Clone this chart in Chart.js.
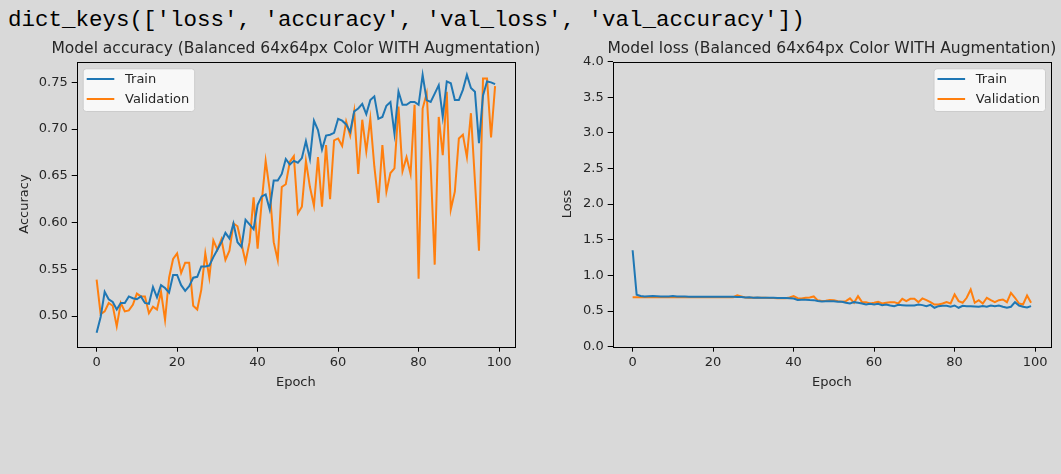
<!DOCTYPE html>
<html>
<head>
<meta charset="utf-8">
<script src="https://cdn.jsdelivr.net/npm/chart.js@4/dist/chart.umd.min.js"></script>
<style>
  html, body { margin: 0; padding: 0; background: #d9d9d9; width: 1061px; height: 474px; overflow: hidden; }
  #keys { position: absolute; left: 8px; top: 9px; font: 22.5px/22px "Liberation Mono", "DejaVu Sans Mono", monospace; color: #000; white-space: pre; }
  #acc-box { position: absolute; left: 0; top: 30px; }
  #loss-box { position: absolute; left: 545px; top: 30px; }
</style>
</head>
<body>
<div id="keys">dict_keys(['loss', 'accuracy', 'val_loss', 'val_accuracy'])</div>
<div id="acc-box"><canvas id="acc" width="545" height="362"></canvas></div>
<div id="loss-box"><canvas id="loss" width="516" height="362"></canvas></div>
<script>
const epochs = Array.from({ length: 100 }, (_, i) => i);
const epochTicks = [0, 20, 40, 60, 80, 100];

const accTrain = [
  0.482, 0.499, 0.526, 0.518, 0.515, 0.507, 0.514, 0.514, 0.521, 0.519,
  0.518, 0.521, 0.514, 0.513, 0.531, 0.520, 0.533, 0.530, 0.525, 0.544,
  0.544, 0.533, 0.527, 0.532, 0.541, 0.542, 0.553, 0.553, 0.554, 0.563,
  0.571, 0.579, 0.589, 0.583, 0.599, 0.579, 0.574, 0.603, 0.598, 0.593,
  0.619, 0.628, 0.630, 0.614, 0.645, 0.645, 0.652, 0.668, 0.662, 0.666,
  0.664, 0.669, 0.687, 0.668, 0.709, 0.699, 0.678, 0.693, 0.694, 0.696,
  0.711, 0.709, 0.705, 0.697, 0.719, 0.722, 0.727, 0.716, 0.731, 0.735,
  0.711, 0.713, 0.725, 0.729, 0.695, 0.740, 0.726, 0.726, 0.729, 0.729,
  0.726, 0.758, 0.731, 0.729, 0.738, 0.747, 0.713, 0.751, 0.749, 0.731,
  0.731, 0.742, 0.758, 0.744, 0.740, 0.685, 0.736, 0.751, 0.750, 0.748
];
const accVal = [
  0.539, 0.502, 0.505, 0.514, 0.511, 0.489, 0.514, 0.505, 0.506, 0.512,
  0.524, 0.521, 0.521, 0.503, 0.510, 0.507, 0.526, 0.496, 0.541, 0.561,
  0.567, 0.546, 0.557, 0.557, 0.511, 0.507, 0.528, 0.567, 0.541, 0.581,
  0.571, 0.582, 0.560, 0.570, 0.599, 0.596, 0.577, 0.558, 0.579, 0.627,
  0.572, 0.621, 0.666, 0.635, 0.579, 0.560, 0.638, 0.641, 0.665, 0.671,
  0.610, 0.617, 0.666, 0.638, 0.618, 0.670, 0.617, 0.683, 0.625, 0.688,
  0.690, 0.682, 0.708, 0.693, 0.719, 0.652, 0.710, 0.676, 0.711, 0.660,
  0.621, 0.683, 0.633, 0.653, 0.658, 0.724, 0.655, 0.670, 0.652, 0.726,
  0.540, 0.722, 0.738, 0.661, 0.555, 0.713, 0.672, 0.740, 0.614, 0.633,
  0.690, 0.694, 0.670, 0.717, 0.644, 0.570, 0.754, 0.754, 0.691, 0.746
];
const accTicks = ['0.50', '0.55', '0.60', '0.65', '0.70', '0.75'];

const lossTrain = [
  1.353, 0.730, 0.712, 0.705, 0.708, 0.710, 0.708, 0.705, 0.704, 0.704,
  0.712, 0.704, 0.703, 0.703, 0.702, 0.702, 0.702, 0.701, 0.700, 0.700,
  0.701, 0.700, 0.699, 0.699, 0.700, 0.699, 0.698, 0.697, 0.690, 0.692,
  0.688, 0.690, 0.688, 0.686, 0.686, 0.685, 0.684, 0.684, 0.684, 0.680,
  0.675, 0.655, 0.658, 0.660, 0.655, 0.653, 0.640, 0.635, 0.638, 0.636,
  0.639, 0.630, 0.630, 0.616, 0.606, 0.625, 0.616, 0.606, 0.592, 0.602,
  0.592, 0.602, 0.583, 0.592, 0.578, 0.569, 0.587, 0.583, 0.578, 0.578,
  0.578, 0.592, 0.583, 0.569, 0.587, 0.546, 0.569, 0.573, 0.573, 0.560,
  0.578, 0.546, 0.573, 0.569, 0.569, 0.564, 0.560, 0.569, 0.560, 0.578,
  0.569, 0.578, 0.560, 0.546, 0.560, 0.625, 0.578, 0.560, 0.551, 0.569
];
const lossVal = [
  0.693, 0.694, 0.694, 0.695, 0.694, 0.694, 0.693, 0.694, 0.694, 0.695,
  0.694, 0.693, 0.694, 0.694, 0.694, 0.695, 0.694, 0.693, 0.694, 0.694,
  0.694, 0.695, 0.694, 0.694, 0.693, 0.694, 0.720, 0.705, 0.690, 0.688,
  0.688, 0.686, 0.686, 0.685, 0.684, 0.683, 0.680, 0.682, 0.680, 0.690,
  0.710, 0.680, 0.676, 0.685, 0.690, 0.705, 0.650, 0.640, 0.645, 0.655,
  0.653, 0.639, 0.630, 0.639, 0.677, 0.616, 0.709, 0.625, 0.625, 0.606,
  0.616, 0.630, 0.606, 0.616, 0.625, 0.625, 0.606, 0.672, 0.639, 0.672,
  0.672, 0.625, 0.677, 0.653, 0.625, 0.592, 0.592, 0.606, 0.625, 0.606,
  0.732, 0.639, 0.616, 0.686, 0.802, 0.616, 0.653, 0.606, 0.686, 0.653,
  0.625, 0.653, 0.662, 0.625, 0.756, 0.686, 0.606, 0.592, 0.718, 0.616
];
const lossTicks = ['0.0', '0.5', '1.0', '1.5', '2.0', '2.5', '3.0', '3.5', '4.0'];

const BLUE = '#1f77b4';
const ORANGE = '#ff7f0e';
const FONT = 'DejaVu Sans';
const INK = '#262626';

// black frame round the plot, like matplotlib spines
const frame = {
  id: 'frame',
  afterDatasetsDraw(chart) {
    const { ctx, chartArea: a } = chart;
    ctx.save();
    ctx.strokeStyle = '#000';
    ctx.lineWidth = 1;
    ctx.strokeRect(Math.round(a.left) + 0.5, Math.round(a.top) + 0.5,
      Math.round(a.right - a.left), Math.round(a.bottom - a.top));
    ctx.restore();
  }
};

// title centred over the plot area (the built-in one squeezes long text)
const axTitle = {
  id: 'axTitle',
  afterDraw(chart, args, opts) {
    const { ctx, chartArea: a } = chart;
    ctx.save();
    ctx.font = '15.5px "' + FONT + '"';
    ctx.fillStyle = INK;
    ctx.textAlign = 'center';
    ctx.textBaseline = 'middle';
    ctx.fillText(opts.text, (a.left + a.right) / 2, a.top - 13);
    ctx.restore();
  }
};

// legend drawn inside the plot area
const boxLegend = {
  id: 'boxLegend',
  afterDraw(chart, args, opts) {
    const { ctx, chartArea: a } = chart;
    const sets = chart.data.datasets;
    ctx.save();
    ctx.font = '13px "' + FONT + '"';
    const textW = Math.max(...sets.map(d => ctx.measureText(d.label).width));
    const w = 4 + 27.6 + 10.7 + textW + 5;
    const h = 42.7;
    const x = opts.side === 'right' ? a.right - 6 - w : a.left + 6;
    const y = a.top + 6.8;
    ctx.beginPath();
    ctx.roundRect(x + 0.5, y + 0.5, w, h, 3);
    ctx.fillStyle = 'rgba(255,255,255,0.8)';
    ctx.fill();
    ctx.strokeStyle = '#cccccc';
    ctx.lineWidth = 1;
    ctx.stroke();
    sets.forEach((d, i) => {
      const cy = y + 10.7 + i * 20;
      ctx.strokeStyle = d.borderColor;
      ctx.lineWidth = 2;
      ctx.beginPath();
      ctx.moveTo(x + 4, cy);
      ctx.lineTo(x + 31.6, cy);
      ctx.stroke();
      ctx.fillStyle = INK;
      ctx.textBaseline = 'middle';
      ctx.fillText(d.label, x + 42.3, cy + 0.5);
    });
    ctx.restore();
  }
};

function makeChart(id, title, yLabel, train, val, yMin, yMax, yTicks, yAxisW, yTitlePad, legendSide, rightPad) {
  return new Chart(document.getElementById(id), {
    type: 'line',
    data: {
      labels: epochs,
      datasets: [
        { label: 'Train', data: train, borderColor: BLUE, borderWidth: 2, pointRadius: 0, tension: 0 },
        { label: 'Validation', data: val, borderColor: ORANGE, borderWidth: 2, pointRadius: 0, tension: 0 }
      ]
    },
    options: {
      responsive: false,
      animation: false,
      devicePixelRatio: 1,
      layout: { padding: { left: 0, right: rightPad, top: 31.5, bottom: 0 } },
      plugins: {
        legend: { display: false },
        tooltip: { enabled: false },
        title: { display: false },
        axTitle: { text: title },
        boxLegend: { side: legendSide }
      },
      scales: {
        x: {
          type: 'linear',
          min: -4.95,
          max: 103.95,
          afterBuildTicks: s => { s.ticks = epochTicks.map(v => ({ value: v })); },
          afterFit: s => { s.height = 45.3; },
          grid: { drawOnChartArea: false, drawTicks: true, tickLength: 5, color: '#000' },
          border: { display: false },
          ticks: { color: INK, padding: 3, maxRotation: 0, font: { family: FONT, size: 13 }, callback: v => String(v) },
          title: { display: true, text: 'Epoch', color: INK, font: { family: FONT, size: 13 }, padding: { top: 0, bottom: 2 } }
        },
        y: {
          type: 'linear',
          min: yMin,
          max: yMax,
          afterBuildTicks: s => { s.ticks = yTicks.map(t => ({ value: parseFloat(t) })); },
          afterFit: s => { s.width = yAxisW; },
          grid: { drawOnChartArea: false, drawTicks: true, tickLength: 5, color: '#000' },
          border: { display: false },
          ticks: {
            color: INK, padding: 4, font: { family: FONT, size: 13 },
            callback: (v, i) => yTicks[i]
          },
          title: { display: true, text: yLabel, color: INK, font: { family: FONT, size: 13 }, padding: { top: yTitlePad, bottom: 0 } }
        }
      }
    },
    plugins: [frame, axTitle, boxLegend]
  });
}

makeChart('acc', 'Model accuracy (Balanced 64x64px Color WITH Augmentation)', 'Accuracy',
  accTrain, accVal, 0.4672, 0.7723, accTicks, 76.7, 17, 'left', 30);
makeChart('loss', 'Model loss (Balanced 64x64px Color WITH Augmentation)', 'Loss',
  lossTrain, lossVal, 0, 4, lossTicks, 67.7, 15.2, 'right', 10);
</script>
</body>
</html>
